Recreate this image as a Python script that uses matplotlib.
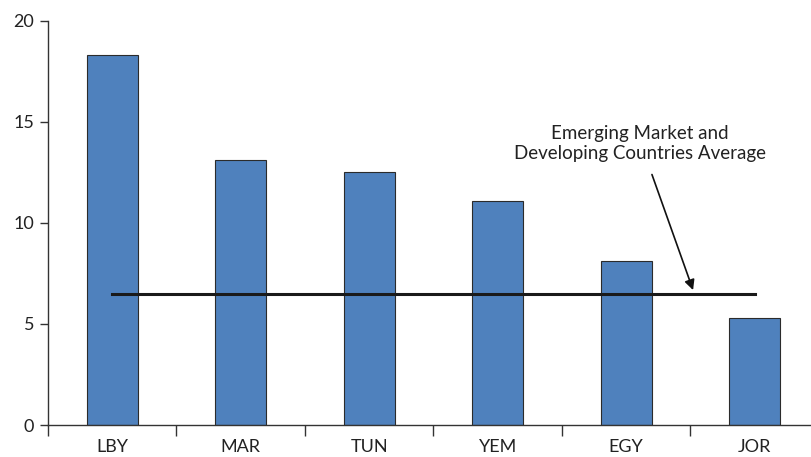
import matplotlib
matplotlib.use("Agg")
import matplotlib.pyplot as plt
import numpy as np

categories = ["LBY", "MAR", "TUN", "YEM", "EGY", "JOR"]
values = [18.3, 13.1, 12.5, 11.1, 8.1, 5.3]
average = 6.5
yticks = [0, 5, 10, 15, 20]
annotation = "Emerging Market and\nDeveloping Countries Average"

plt.rcParams['font.family'] = ['Lato', 'DejaVu Sans']

fig = plt.figure(figsize=(8.11, 4.57), dpi=100)
W, H = 811, 457
x0, x1 = 48, 819
y0, y1 = 425, 21
ax = fig.add_axes([x0 / W, (H - y0) / H, (x1 - x0) / W, (y0 - y1) / H])

x = np.arange(len(categories))
ax.bar(x, values, width=0.4, color="#4F81BD", edgecolor="#2b2b2b", linewidth=0.8, zorder=2)
ax.plot([x[0], x[-1]], [average, average], color="#1a1a1a", linewidth=2.2, zorder=3)

ax.set_xlim(-0.5, len(categories) - 0.5)
ax.set_ylim(0, 20)
ax.set_yticks(yticks)
ax.set_yticklabels([str(t) for t in yticks], fontsize=13, color="#222222")
ax.set_xticks(x)
ax.set_xticklabels(categories, fontsize=13, color="#222222")
ax.set_xticks(np.arange(len(categories) + 1) - 0.5, minor=True)
ax.tick_params(axis="x", which="major", length=0, pad=10)
ax.tick_params(axis="x", which="minor", length=8, width=1, color="#333333", direction="out")
ax.tick_params(axis="y", length=6, width=1, color="#333333", direction="out", pad=4)

for s in ["top", "right"]:
    ax.spines[s].set_visible(False)
for s in ["left", "bottom"]:
    ax.spines[s].set_color("#333333")
    ax.spines[s].set_linewidth(1.0)

ax.text(4.107, 13.94, annotation, ha="center", va="center", fontsize=13.5,
        color="#222222", linespacing=1.25)
ax.annotate("", xy=(4.52, 6.68), xytext=(4.2, 12.4),
            arrowprops=dict(arrowstyle="-|>", color="#111111", lw=1.2,
                            shrinkA=0, shrinkB=0, mutation_scale=15))

fig.savefig("out.png", dpi=100)
